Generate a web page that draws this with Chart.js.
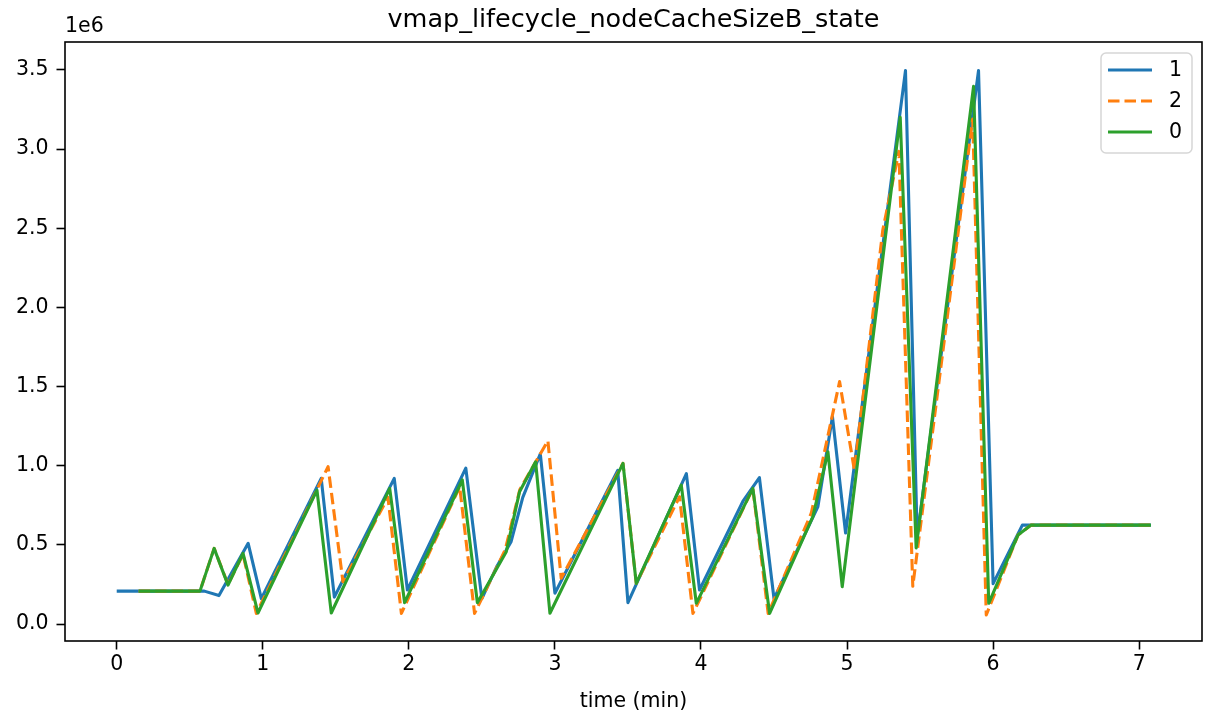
<!doctype html>
<html lang="en">
<head>
<meta charset="utf-8">
<style>
  * { margin: 0; padding: 0; }
  body { background: #fff; }
</style>
</head>
<body>
<canvas id="myChart" width="1210" height="717"></canvas>
<script src="https://cdn.jsdelivr.net/npm/chart.js/dist/chart.umd.min.js"></script>
<script>
// data: time in minutes, cache size in bytes
const time1 = [0, 0.60, 0.70, 0.90, 0.99, 1.40, 1.49, 1.90, 1.99, 2.39, 2.50, 2.60, 2.70, 2.78, 2.90, 3.00, 3.43, 3.50, 3.90, 3.99, 4.29, 4.40, 4.50, 4.80, 4.90, 4.99, 5.40, 5.48, 5.90, 6.00, 6.20, 7.08];
const size1 = [208000, 208000, 180000, 510000, 160000, 920000, 170000, 920000, 215000, 985000, 160000, 360000, 520000, 800000, 1075000, 195000, 970000, 135000, 950000, 215000, 780000, 925000, 160000, 740000, 1310000, 575000, 3495000, 550000, 3495000, 255000, 625000, 625000];

const time2 = [0.15, 0.57, 0.667, 0.762, 0.865, 0.956, 1.447, 1.549, 1.857, 1.949, 2.348, 2.45, 2.66, 2.76, 2.952, 3.043, 3.466, 3.557, 3.853, 3.945, 4.355, 4.46, 4.755, 4.949, 5.05, 5.245, 5.355, 5.45, 5.86, 5.953, 6.17, 6.26, 7.08];
const size2 = [208000, 208000, 478000, 250000, 440000, 67000, 994000, 267000, 800000, 67000, 867000, 67000, 470000, 850000, 1158000, 289000, 1015000, 257000, 804000, 67000, 857000, 67000, 700000, 1531000, 973000, 2490000, 2985000, 239000, 3190000, 57000, 562000, 625000, 625000];

const time0 = [0.15, 0.57, 0.667, 0.762, 0.865, 0.967, 1.371, 1.469, 1.869, 1.971, 2.366, 2.469, 2.667, 2.758, 2.868, 2.966, 3.466, 3.557, 3.865, 3.968, 4.355, 4.47, 4.766, 4.869, 4.967, 5.364, 5.473, 5.866, 5.97, 6.17, 6.26, 7.08];
const size0 = [208000, 208000, 478000, 246000, 447000, 70000, 846000, 70000, 857000, 135000, 910000, 135000, 457000, 836000, 1025000, 68000, 1015000, 257000, 878000, 131000, 857000, 67000, 678000, 1088000, 236000, 3200000, 480000, 3396000, 131000, 562000, 625000, 625000];

const xTicks = [0, 1, 2, 3, 4, 5, 6, 7];
const yTicks = [0, 500000, 1000000, 1500000, 2000000, 2500000, 3000000, 3500000];

const FONT = 'DejaVu Sans';
const FS = 20.5;

const toPoints = (ts, vs) => ts.map((t, i) => ({ x: t, y: vs[i] }));

// setup
const data = {
  datasets: [
    {
      label: '1',
      data: toPoints(time1, size1),
      borderColor: '#1f77b4',
      borderWidth: 3.1,
      pointRadius: 0,
      borderJoinStyle: 'round',
      order: 2
    },
    {
      label: '2',
      data: toPoints(time2, size2),
      borderColor: '#ff7f0e',
      borderWidth: 3.1,
      borderDash: [11.5, 5],
      pointRadius: 0,
      borderJoinStyle: 'round',
      order: 1
    },
    {
      label: '0',
      data: toPoints(time0, size0),
      borderColor: '#2ca02c',
      borderWidth: 3.1,
      pointRadius: 0,
      borderJoinStyle: 'round',
      order: 0
    }
  ]
};

// frame, title, offset text and legend
const decorations = {
  id: 'decorations',
  afterDatasetsDraw(chart) {
    const { ctx, chartArea: { top, bottom, left, right } } = chart;
    ctx.save();
    ctx.strokeStyle = '#000';
    ctx.lineWidth = 1.6;
    ctx.strokeRect(left, top, right - left, bottom - top);
    ctx.restore();
  },
  afterDraw(chart) {
    const { ctx, chartArea: { top, left, right } } = chart;
    ctx.save();
    ctx.fillStyle = '#000';
    ctx.textBaseline = 'middle';

    ctx.font = '25.5px "' + FONT + '"';
    ctx.textAlign = 'center';
    ctx.fillText('vmap_lifecycle_nodeCacheSizeB_state', (left + right) / 2, 20);

    ctx.font = FS + 'px "' + FONT + '"';
    ctx.textAlign = 'left';
    ctx.fillText('1e6', left, 27);

    // legend box
    const bx = 1101, by = 53, bw = 91, bh = 100;
    ctx.beginPath();
    ctx.roundRect(bx, by, bw, bh, 5);
    ctx.fillStyle = 'rgba(255,255,255,0.8)';
    ctx.fill();
    ctx.strokeStyle = '#d6d6d6';
    ctx.lineWidth = 1.5;
    ctx.stroke();

    const rows = [70, 101, 132];
    const legendOrder = [0, 1, 2];
    legendOrder.forEach((di, i) => {
      const ds = chart.data.datasets[di];
      ctx.beginPath();
      ctx.strokeStyle = ds.borderColor;
      ctx.lineWidth = ds.borderWidth;
      ctx.setLineDash(ds.borderDash || []);
      ctx.moveTo(1108, rows[i]);
      ctx.lineTo(1152, rows[i]);
      ctx.stroke();
      ctx.setLineDash([]);
      ctx.fillStyle = '#000';
      ctx.fillText(ds.label, 1169, rows[i] + 1);
    });
    ctx.restore();
  }
};

const axisGrid = {
  drawOnChartArea: false,
  drawTicks: true,
  tickLength: 8.5,
  tickWidth: 1.6,
  tickColor: '#000'
};

// config
const config = {
  type: 'line',
  data,
  options: {
    responsive: false,
    animation: false,
    layout: {
      padding: { top: 42, right: 8, left: 0, bottom: 0 }
    },
    scales: {
      x: {
        type: 'linear',
        min: -0.354,
        max: 7.43,
        afterBuildTicks: (scale) => { scale.ticks = xTicks.map(v => ({ value: v })); },
        afterFit: (scale) => { scale.height = 76; },
        border: { display: false },
        grid: axisGrid,
        ticks: {
          color: '#000',
          font: { family: FONT, size: FS },
          padding: 2.5,
          maxRotation: 0,
          callback: (v) => String(v)
        },
        title: {
          display: true,
          text: 'time (min)',
          color: '#000',
          font: { family: FONT, size: FS },
          padding: { top: 0, bottom: 3 }
        }
      },
      y: {
        type: 'linear',
        min: -107000,
        max: 3676000,
        afterBuildTicks: (scale) => { scale.ticks = yTicks.map(v => ({ value: v })); },
        afterFit: (scale) => { scale.width = 65; },
        border: { display: false },
        grid: axisGrid,
        ticks: {
          color: '#000',
          font: { family: FONT, size: FS },
          padding: 8,
          callback: (v) => (v / 1e6).toFixed(1)
        }
      }
    },
    plugins: {
      legend: { display: false },
      tooltip: { enabled: false }
    }
  },
  plugins: [decorations]
};

// render init block
const myChart = new Chart(
  document.getElementById('myChart'),
  config
);
</script>
</body>
</html>
